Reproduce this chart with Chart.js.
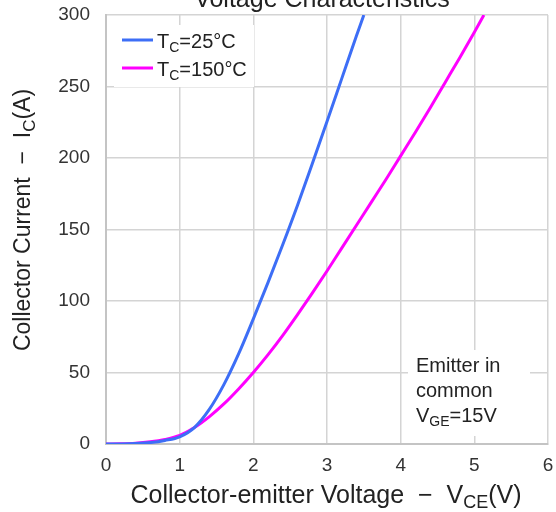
<!DOCTYPE html>
<html>
<head>
<meta charset="utf-8">
<script src="https://cdn.jsdelivr.net/npm/chart.js@4/dist/chart.umd.min.js"></script>
<style>
  html, body { margin: 0; padding: 0; background: #ffffff; }
  #wrap { width: 556px; height: 512px; position: relative; }
</style>
</head>
<body>
<div id="wrap"><canvas id="c" width="556" height="512"></canvas></div>
<script>
// Output characteristics: collector current vs collector-emitter voltage
const vce25 = [0, 0.2, 0.4, 0.6, 0.8, 1.0, 1.2, 1.4, 1.6, 1.8, 2.0, 2.2, 2.4, 2.6, 2.8, 3.0, 3.2, 3.4, 3.5];
const ic25  = [0, 0.05, 0.3, 1, 2.5, 5, 11.5, 24, 41.5, 63, 87.5, 113, 139.5, 167, 196, 225.5, 255.5, 285.5, 300];

const vce150 = [0, 0.2, 0.4, 0.6, 0.8, 1.0, 1.2, 1.4, 1.6, 1.8, 2.0, 2.2, 2.4, 2.6, 2.8, 3.0, 3.2, 3.4, 3.6, 3.8, 4.0, 4.2, 4.4, 4.6, 4.8, 5.0, 5.13];
const ic150  = [0, 0.1, 0.5, 1.5, 3.2, 6, 11.5, 19, 28, 38.5, 50, 62.5, 76, 90.5, 105.5, 121, 137, 153, 169, 185, 201.5, 218, 235, 252.5, 270, 288, 300];

const seriesNames = [
  [{ t: 'T' }, { t: 'C', sub: true }, { t: '=25°C' }],
  [{ t: 'T' }, { t: 'C', sub: true }, { t: '=150°C' }]
];
const seriesColors = ['#3d6ef6', '#ff00ff'];

const chartTitle = 'Voltage Characteristics';
const xTitle = [{ t: 'Collector-emitter Voltage  \u2212  V' }, { t: 'CE', sub: true }, { t: '(V)' }];
const yTitle = [{ t: 'Collector Current  \u2212  I' }, { t: 'C', sub: true }, { t: '(A)' }];
const noteLines = [
  [{ t: 'Emitter in' }],
  [{ t: 'common' }],
  [{ t: 'V' }, { t: 'GE', sub: true }, { t: '=15V' }]
];

const FONT = '"Liberation Sans", Arial, sans-serif';
const TEXT = '#222222';

function toPoints(xs, ys) { return xs.map((x, i) => ({ x: x, y: ys[i] })); }

// text runs with optional subscripts
function richWidth(ctx, segs, size) {
  let w = 0;
  segs.forEach(s => {
    ctx.font = (s.sub ? Math.round(size * 0.72) : size) + 'px ' + FONT;
    w += ctx.measureText(s.t).width;
  });
  return w;
}
function drawRich(ctx, segs, x, y, size, align) {
  const w = richWidth(ctx, segs, size);
  let cx = align === 'center' ? x - w / 2 : x;
  ctx.textBaseline = 'alphabetic';
  ctx.textAlign = 'left';
  segs.forEach(s => {
    const sz = s.sub ? Math.round(size * 0.72) : size;
    ctx.font = sz + 'px ' + FONT;
    ctx.fillText(s.t, cx, s.sub ? y + size * 0.2 : y);
    cx += ctx.measureText(s.t).width;
  });
}

const decorations = {
  id: 'decorations',
  afterDraw(chart) {
    const ctx = chart.ctx;
    ctx.save();
    ctx.fillStyle = TEXT;

    // chart title, running off the top edge
    ctx.font = '25px ' + FONT;
    ctx.textAlign = 'center';
    ctx.textBaseline = 'alphabetic';
    ctx.fillText(chartTitle, 322, 7);

    // x axis title
    drawRich(ctx, xTitle, 326, 503, 25, 'center');

    // y axis title (rotated)
    ctx.save();
    ctx.translate(30, 220);
    ctx.rotate(-Math.PI / 2);
    drawRich(ctx, yTitle, 0, 0, 23, 'center');
    ctx.restore();
    ctx.restore();
  },
  beforeDatasetsDraw(chart) {
    const ctx = chart.ctx;
    const area = chart.chartArea;
    ctx.save();
    ctx.fillStyle = '#ffffff';
    // legend panel
    ctx.fillRect(area.left + 8, area.top + 10, 140, 62);
    // note panel
    ctx.fillRect(area.left + 302, area.top + 335, 122, 86);
    ctx.restore();
  },
  afterDatasetsDraw(chart) {
    const ctx = chart.ctx;
    ctx.save();
    // legend
    seriesNames.forEach((segs, i) => {
      const y = 40 + i * 28;
      ctx.strokeStyle = seriesColors[i];
      ctx.lineWidth = 3;
      ctx.beginPath();
      ctx.moveTo(122, y);
      ctx.lineTo(153, y);
      ctx.stroke();
      ctx.fillStyle = TEXT;
      drawRich(ctx, segs, 157, y + 8, 20, 'left');
    });
    // note
    ctx.fillStyle = TEXT;
    noteLines.forEach((segs, i) => {
      drawRich(ctx, segs, 416, 372 + i * 25, 20, 'left');
    });
    ctx.restore();
  }
};

new Chart(document.getElementById('c'), {
  type: 'line',
  data: {
    datasets: [
      {
        data: toPoints(vce25, ic25),
        borderColor: seriesColors[0],
        borderWidth: 3,
        pointRadius: 0,
        cubicInterpolationMode: 'monotone',
        fill: false
      },
      {
        data: toPoints(vce150, ic150),
        borderColor: seriesColors[1],
        borderWidth: 3,
        pointRadius: 0,
        cubicInterpolationMode: 'monotone',
        fill: false
      }
    ]
  },
  options: {
    responsive: false,
    animation: false,
    events: [],
    layout: { padding: { left: 0, top: 15, right: 8, bottom: 0 } },
    plugins: {
      legend: { display: false },
      title: { display: false },
      tooltip: { enabled: false }
    },
    scales: {
      x: {
        type: 'linear',
        min: 0,
        max: 6,
        afterFit(scale) {
          scale.height = 68;
          scale.paddingLeft = 0;
          scale.paddingRight = 0;
        },
        border: { display: true, color: '#c4c4c4', width: 2 },
        grid: { color: '#d4d4d4', lineWidth: 1.5, drawTicks: false },
        ticks: {
          stepSize: 1,
          padding: 10,
          color: '#333333',
          font: { family: FONT, size: 19 }
        }
      },
      y: {
        type: 'linear',
        min: 0,
        max: 300,
        afterFit(scale) {
          scale.width = 106;
          scale.paddingTop = 0;
          scale.paddingBottom = 0;
        },
        border: { display: true, color: '#c4c4c4', width: 2 },
        grid: { color: '#d4d4d4', lineWidth: 1.5, drawTicks: false },
        ticks: {
          stepSize: 50,
          padding: 16,
          color: '#333333',
          font: { family: FONT, size: 19 }
        }
      }
    }
  },
  plugins: [decorations]
});
</script>
</body>
</html>
